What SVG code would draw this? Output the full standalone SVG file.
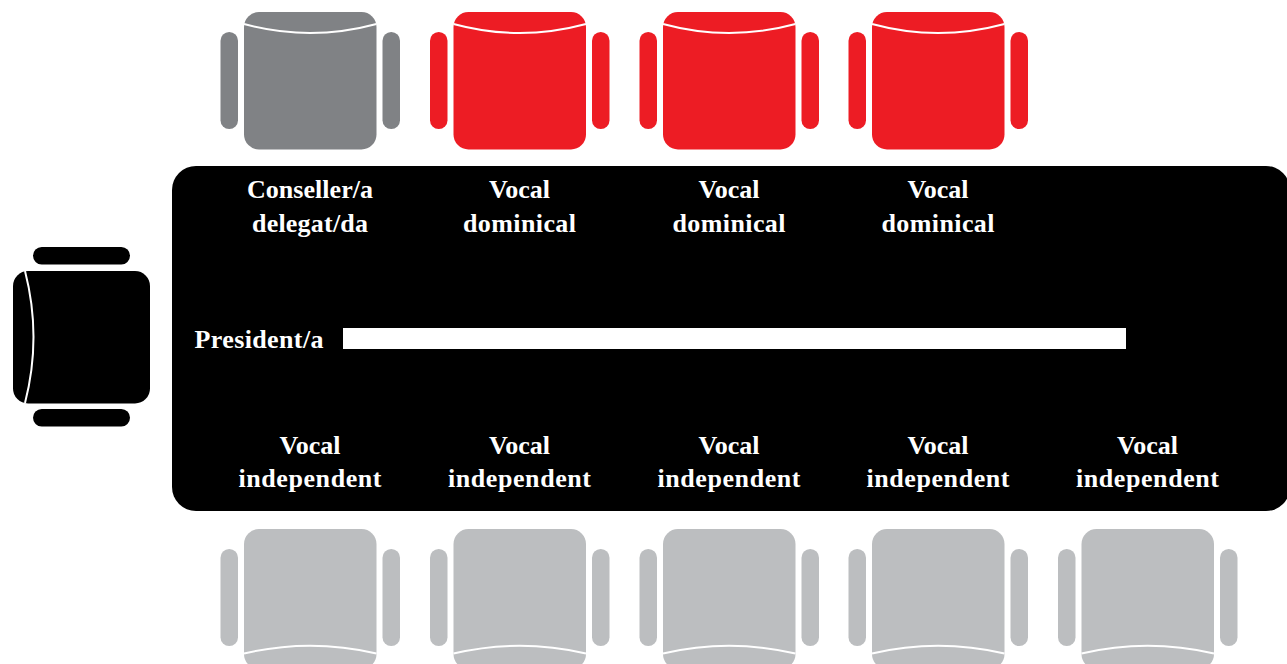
<svg xmlns="http://www.w3.org/2000/svg" xmlns:xlink="http://www.w3.org/1999/xlink" width="1287" height="664" viewBox="0 0 1287 664">
<style>
.t{font-family:"Liberation Serif","Times New Roman",serif;font-weight:700;font-size:26px;fill:#fff;text-anchor:middle}
.c{fill:none;stroke:#fff;stroke-width:2}
.gray{fill:#808285}.red{fill:#ed1c24}.light{fill:#bcbec0}.black{fill:#000}
</style>
<defs>
<g id="chair">
<rect x="-89.500" y="32" width="17.500" height="97" rx="8.700"/>
<rect x="72.500" y="32" width="17.500" height="97" rx="8.700"/>
<rect x="-66" y="12" width="132.500" height="137.500" rx="15"/>
<path class="c" d="M-66 24Q0 42 66.500 24"/>
</g>
<g id="chairB">
<rect x="-89.500" y="549" width="17.500" height="97" rx="8.700"/>
<rect x="72.500" y="549" width="17.500" height="97" rx="8.700"/>
<rect x="-66" y="529" width="132.500" height="140" rx="15"/>
<path class="c" d="M-66 653.500Q0 638 66.500 653.500"/>
</g>
</defs>
<g id="table">
<rect x="172" y="166" width="1118" height="345" rx="24" fill="#000"/>
<rect x="343" y="328" width="783" height="21" fill="#fff"/>
</g>
<g id="president-chair" class="black">
<rect x="33" y="247" width="97" height="17.500" rx="8.700"/>
<rect x="33" y="409" width="97" height="17.500" rx="8.700"/>
<rect x="13" y="271" width="137" height="132.500" rx="15"/>
<path class="c" d="M25 271Q42 337 25 403"/>
</g>
<g id="chair-conseller" class="gray"><use xlink:href="#chair" href="#chair" x="310"/></g>
<g id="chair-dominical-1" class="red"><use xlink:href="#chair" href="#chair" x="519.500"/></g>
<g id="chair-dominical-2" class="red"><use xlink:href="#chair" href="#chair" x="729"/></g>
<g id="chair-dominical-3" class="red"><use xlink:href="#chair" href="#chair" x="938"/></g>
<g id="chair-independent-1" class="light"><use xlink:href="#chairB" href="#chairB" x="310"/></g>
<g id="chair-independent-2" class="light"><use xlink:href="#chairB" href="#chairB" x="519.500"/></g>
<g id="chair-independent-3" class="light"><use xlink:href="#chairB" href="#chairB" x="729"/></g>
<g id="chair-independent-4" class="light"><use xlink:href="#chairB" href="#chairB" x="938"/></g>
<g id="chair-independent-5" class="light"><use xlink:href="#chairB" href="#chairB" x="1147.500"/></g>
<g id="labels">
<text class="t" x="310" y="198" textLength="126">Conseller/a</text><text class="t" x="310" y="232" textLength="116">delegat/da</text>
<text class="t" x="519.500" y="198">Vocal</text><text class="t" x="519.500" y="232" textLength="113">dominical</text>
<text class="t" x="729" y="198">Vocal</text><text class="t" x="729" y="232" textLength="113">dominical</text>
<text class="t" x="938" y="198">Vocal</text><text class="t" x="938" y="232" textLength="113">dominical</text>
<text class="t" x="259" y="348" textLength="129">President/a</text>
<text class="t" x="310" y="454">Vocal</text><text class="t" x="310" y="487" textLength="143">independent</text>
<text class="t" x="519.500" y="454">Vocal</text><text class="t" x="519.500" y="487" textLength="143">independent</text>
<text class="t" x="729" y="454">Vocal</text><text class="t" x="729" y="487" textLength="143">independent</text>
<text class="t" x="938" y="454">Vocal</text><text class="t" x="938" y="487" textLength="143">independent</text>
<text class="t" x="1147.500" y="454">Vocal</text><text class="t" x="1147.500" y="487" textLength="143">independent</text>
</g>
</svg>
